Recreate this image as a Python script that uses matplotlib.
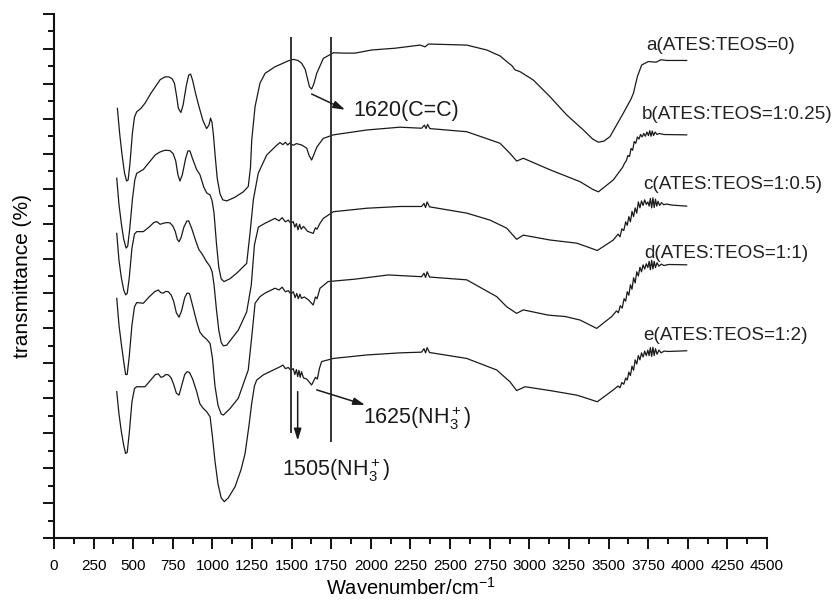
import numpy as np
import matplotlib
matplotlib.use("Agg")
import matplotlib.pyplot as plt
from matplotlib.ticker import MultipleLocator

plt.rcParams['font.family'] = ['Liberation Sans', 'DejaVu Sans']
plt.rcParams['mathtext.fontset'] = 'custom'
plt.rcParams['mathtext.rm'] = 'Liberation Sans'
plt.rcParams['mathtext.it'] = 'Liberation Sans:italic'
plt.rcParams['mathtext.bf'] = 'Liberation Sans:bold'

# FTIR spectra: (wavenumber, offset transmittance)
curve_a = [
    (400, 12.30), (415, 11.55), (430, 10.95), (445, 10.45), (458, 10.22), (468, 10.25),
    (480, 10.75), (495, 11.60), (508, 12.05), (522, 12.20), (549, 12.30), (575, 12.45),
    (610, 12.72), (640, 12.92), (670, 13.12), (700, 13.20), (725, 13.20), (745, 13.15),
    (760, 13.02), (772, 12.70), (785, 12.30), (801, 12.18), (815, 12.40), (835, 12.95),
    (850, 13.25), (862, 13.28), (875, 13.10), (895, 12.70), (915, 12.35), (940, 11.95),
    (963, 11.72), (978, 11.82), (988, 12.02), (997, 11.90), (1006, 11.55), (1018, 10.90),
    (1030, 10.30), (1048, 9.85), (1065, 9.68), (1090, 9.65), (1140, 9.75), (1195, 9.91),
    (1226, 10.06), (1240, 10.60), (1248, 11.39), (1269, 12.35), (1300, 13.02), (1332, 13.30),
    (1395, 13.49), (1440, 13.58), (1479, 13.66), (1511, 13.70), (1540, 13.67), (1563, 13.59),
    (1585, 13.42), (1600, 13.15), (1612, 12.92), (1626, 12.85), (1640, 13.00), (1658, 13.30),
    (1700, 13.73), (1763, 13.89), (1837, 13.88), (1900, 13.88), (2005, 13.97), (2152, 14.02),
    (2310, 14.11), (2342, 14.06), (2363, 14.14), (2450, 14.13), (2605, 14.11), (2731, 13.97),
    (2815, 13.80), (2857, 13.64), (2890, 13.52), (2910, 13.40), (2941, 13.35), (3025, 13.11),
    (3131, 12.63), (3236, 12.11), (3341, 11.68), (3400, 11.42), (3436, 11.33), (3470, 11.36),
    (3509, 11.49), (3593, 12.16), (3640, 12.55), (3657, 12.73), (3682, 13.21), (3709, 13.54),
    (3751, 13.64), (3800, 13.62), (3830, 13.69), (3867, 13.67), (3993, 13.67),
]

curve_b = [
    (396, 10.30), (410, 9.55), (425, 9.00), (440, 8.55), (455, 8.30), (465, 8.35),
    (478, 8.85), (495, 9.70), (510, 10.25), (522, 10.44), (545, 10.50), (564, 10.55),
    (600, 10.75), (640, 10.97), (669, 11.05), (700, 11.10), (732, 11.09), (752, 11.00),
    (768, 10.80), (782, 10.40), (795, 10.22), (810, 10.40), (830, 10.85), (845, 11.08),
    (858, 11.08), (875, 10.85), (900, 10.55), (921, 10.40), (945, 10.05), (963, 9.88),
    (985, 9.82), (998, 9.65), (1010, 9.30), (1025, 8.45), (1040, 7.75), (1055, 7.42),
    (1073, 7.34), (1110, 7.42), (1153, 7.58), (1216, 7.86), (1237, 8.72), (1258, 9.68),
    (1289, 10.44), (1342, 10.96), (1400, 11.22), (1426, 11.32), (1445, 11.26), (1460, 11.33),
    (1475, 11.25), (1489, 11.31), (1510, 11.24), (1530, 11.29), (1563, 11.25), (1595, 11.16),
    (1610, 10.95), (1626, 10.82), (1660, 11.20), (1700, 11.44), (1763, 11.54), (1974, 11.68),
    (2184, 11.76), (2320, 11.73), (2338, 11.82), (2348, 11.72), (2358, 11.84), (2372, 11.72),
    (2605, 11.63), (2815, 11.30), (2878, 11.01), (2920, 10.79), (2962, 10.87), (3131, 10.54),
    (3320, 10.20), (3400, 9.98), (3436, 9.91), (3530, 10.25), (3590, 10.62), (3600, 10.72),
    (3612, 10.80), (3622, 10.95), (3632, 10.92), (3642, 11.15), (3652, 11.10), (3662, 11.35),
    (3672, 11.30), (3682, 11.48), (3692, 11.42), (3702, 11.55), (3712, 11.48), (3722, 11.58),
    (3732, 11.50), (3742, 11.62), (3752, 11.52), (3760, 11.66), (3768, 11.50), (3776, 11.65),
    (3784, 11.52), (3794, 11.62), (3806, 11.55), (3820, 11.58), (3850, 11.55), (3993, 11.54),
]

curve_c = [
    (396, 8.72), (410, 7.95), (425, 7.45), (440, 7.10), (452, 6.96), (462, 7.00),
    (475, 7.45), (492, 8.30), (508, 8.70), (522, 8.77), (564, 8.77), (600, 8.90),
    (630, 9.03), (648, 9.06), (670, 8.98), (690, 9.01), (712, 9.03), (732, 9.02),
    (750, 8.93), (765, 8.78), (778, 8.55), (789, 8.48), (802, 8.60), (820, 8.90),
    (838, 9.07), (850, 9.08), (870, 8.85), (895, 8.50), (915, 8.25), (932, 8.15),
    (963, 7.91), (985, 7.77), (998, 7.62), (1010, 7.25), (1025, 6.55), (1040, 5.95),
    (1055, 5.60), (1069, 5.50), (1090, 5.52), (1163, 5.95), (1216, 6.47), (1245, 7.24),
    (1265, 8.39), (1290, 8.90), (1332, 9.01), (1395, 9.15), (1420, 9.08), (1440, 9.17),
    (1460, 9.05), (1479, 9.10), (1495, 9.00), (1510, 9.06), (1520, 8.90), (1530, 9.00),
    (1540, 8.82), (1550, 8.98), (1560, 8.84), (1575, 8.92), (1600, 8.78), (1636, 8.72),
    (1650, 8.88), (1660, 8.84), (1679, 9.01), (1700, 9.15), (1763, 9.34), (1974, 9.44),
    (2184, 9.49), (2320, 9.49), (2335, 9.58), (2345, 9.46), (2355, 9.62), (2370, 9.48),
    (2605, 9.30), (2752, 9.10), (2857, 8.87), (2920, 8.55), (2962, 8.67), (3131, 8.53),
    (3299, 8.44), (3362, 8.34), (3429, 8.23), (3530, 8.53), (3560, 8.70), (3572, 8.62),
    (3584, 8.85), (3596, 8.80), (3608, 9.05), (3618, 8.95), (3628, 9.20), (3638, 9.05),
    (3648, 9.35), (3658, 9.20), (3668, 9.45), (3678, 9.30), (3688, 9.62), (3698, 9.45),
    (3708, 9.65), (3718, 9.52), (3728, 9.68), (3738, 9.55), (3748, 9.62), (3756, 9.50),
    (3764, 9.72), (3772, 9.45), (3780, 9.74), (3788, 9.46), (3796, 9.70), (3804, 9.50),
    (3812, 9.64), (3822, 9.52), (3834, 9.60), (3848, 9.54), (3865, 9.56), (3900, 9.53),
    (3993, 9.50),
]

curve_d = [
    (396, 6.86), (410, 6.10), (425, 5.55), (440, 5.05), (452, 4.68), (462, 4.68),
    (475, 5.20), (492, 6.10), (508, 6.62), (522, 6.74), (564, 6.72), (600, 6.90),
    (635, 7.05), (658, 7.10), (675, 7.02), (690, 7.01), (705, 7.06), (722, 7.05),
    (740, 6.95), (755, 6.78), (772, 6.45), (789, 6.32), (805, 6.50), (825, 6.88),
    (840, 7.01), (855, 7.00), (875, 6.65), (900, 6.20), (920, 5.90), (940, 5.78),
    (963, 5.69), (985, 5.57), (1000, 5.15), (1016, 4.35), (1035, 3.80), (1055, 3.55),
    (1069, 3.52), (1110, 3.70), (1163, 4.00), (1226, 4.81), (1248, 5.76), (1269, 6.72),
    (1300, 6.91), (1332, 7.01), (1395, 7.15), (1420, 7.10), (1440, 7.18), (1460, 7.05),
    (1479, 7.08), (1495, 6.98), (1510, 7.05), (1522, 6.88), (1532, 7.00), (1542, 6.85),
    (1552, 6.98), (1562, 6.86), (1580, 6.90), (1605, 6.82), (1636, 6.67), (1650, 6.90),
    (1660, 6.85), (1679, 7.15), (1730, 7.34), (1900, 7.41), (2110, 7.53), (2320, 7.48),
    (2335, 7.58), (2345, 7.46), (2355, 7.62), (2370, 7.47), (2605, 7.39), (2794, 6.91),
    (2857, 6.62), (2920, 6.43), (2962, 6.53), (3120, 6.38), (3226, 6.34), (3320, 6.24),
    (3425, 6.00), (3520, 6.34), (3550, 6.50), (3562, 6.45), (3574, 6.65), (3586, 6.58),
    (3598, 6.85), (3608, 6.78), (3618, 7.05), (3628, 6.95), (3638, 7.25), (3648, 7.12),
    (3658, 7.45), (3668, 7.30), (3678, 7.62), (3688, 7.50), (3698, 7.75), (3708, 7.62),
    (3718, 7.82), (3728, 7.70), (3738, 7.85), (3748, 7.74), (3756, 7.92), (3764, 7.68),
    (3772, 7.95), (3780, 7.70), (3788, 7.92), (3796, 7.74), (3806, 7.88), (3818, 7.78),
    (3832, 7.84), (3850, 7.80), (3880, 7.83), (3993, 7.82),
]

curve_e = [
    (396, 4.19), (410, 3.55), (425, 3.05), (440, 2.65), (452, 2.42), (462, 2.45),
    (475, 3.00), (492, 3.90), (508, 4.28), (522, 4.33), (574, 4.33), (610, 4.52),
    (640, 4.68), (658, 4.70), (675, 4.60), (690, 4.62), (705, 4.68), (722, 4.67),
    (740, 4.58), (755, 4.40), (772, 4.15), (789, 4.09), (805, 4.35), (825, 4.68),
    (840, 4.76), (855, 4.74), (875, 4.55), (900, 4.20), (920, 3.85), (940, 3.72),
    (963, 3.62), (985, 3.47), (1000, 2.90), (1016, 2.20), (1035, 1.55), (1055, 1.15),
    (1075, 1.04), (1100, 1.15), (1143, 1.47), (1180, 1.95), (1206, 2.42), (1230, 3.20),
    (1248, 3.86), (1265, 4.35), (1279, 4.52), (1321, 4.67), (1380, 4.80), (1426, 4.90),
    (1445, 4.95), (1460, 4.85), (1479, 4.88), (1495, 4.80), (1510, 4.85), (1520, 4.68),
    (1530, 4.82), (1538, 4.62), (1546, 4.80), (1554, 4.60), (1562, 4.76), (1575, 4.58),
    (1595, 4.55), (1626, 4.38), (1650, 4.60), (1662, 4.55), (1675, 4.85), (1689, 5.05),
    (1763, 5.14), (1974, 5.24), (2184, 5.30), (2320, 5.32), (2335, 5.42), (2345, 5.30),
    (2355, 5.45), (2370, 5.31), (2605, 5.14), (2794, 4.81), (2878, 4.47), (2920, 4.22),
    (2973, 4.33), (3131, 4.22), (3299, 4.09), (3362, 4.00), (3429, 3.90), (3530, 4.24),
    (3560, 4.35), (3572, 4.30), (3584, 4.45), (3596, 4.40), (3608, 4.58), (3618, 4.52),
    (3628, 4.75), (3638, 4.65), (3648, 4.92), (3658, 4.80), (3668, 5.10), (3678, 4.98),
    (3688, 5.22), (3698, 5.10), (3708, 5.30), (3718, 5.18), (3728, 5.35), (3738, 5.22),
    (3748, 5.38), (3756, 5.22), (3764, 5.45), (3772, 5.20), (3780, 5.46), (3788, 5.22),
    (3796, 5.42), (3806, 5.26), (3818, 5.38), (3832, 5.30), (3850, 5.35), (3880, 5.34),
    (3993, 5.36),
]

curves = [curve_a, curve_b, curve_c, curve_d, curve_e]
curve_labels = ["a(ATES:TEOS=0)", "b(ATES:TEOS=1:0.25)", "c(ATES:TEOS=1:0.5)",
                "d(ATES:TEOS=1:1)", "e(ATES:TEOS=1:2)"]
label_x = [3741, 3709, 3719, 3726, 3718]
label_y = [14.11, 12.11, 10.11, 8.15, 5.81]

# marker lines and band annotations
vline_x = [1495, 1748]
vline_ymin = [3.04, 2.79]
vline_ytop = 14.31

fig = plt.figure(figsize=(8.37, 6.02), dpi=100)
ax = fig.add_axes([54 / 837, 1 - 538 / 602, 713 / 837, 524 / 602])

for pts in curves:
    x, y = np.array(pts).T
    ax.plot(x, y, color="#1a1a1a", lw=0.9)

for xv, y0 in zip(vline_x, vline_ymin):
    ax.plot([xv, xv], [y0, vline_ytop], color="#333333", lw=1.4)

for txt, xl, yl in zip(curve_labels, label_x, label_y):
    ax.text(xl, yl, txt, fontsize=13.6, va="center", ha="left", color="#222222")

arrow_kw = dict(arrowstyle="-|>,head_length=0.7,head_width=0.22", color="#1a1a1a", lw=1.1,
                shrinkA=0, shrinkB=0)
ax.annotate("", xy=(1837, 12.26), xytext=(1626, 12.71), arrowprops=arrow_kw)
ax.annotate("", xy=(1963, 3.81), xytext=(1658, 4.24), arrowprops=arrow_kw)
ax.annotate("", xy=(1538, 2.79), xytext=(1538, 4.19), arrowprops=arrow_kw)

ax.text(1889, 12.08, "1620(C=C)", fontsize=15.5, va="baseline", color="#1a1a1a")
ax.text(1952, 3.25, r"1625(NH$_3^+$)", fontsize=15.5, va="baseline", color="#1a1a1a")
ax.text(1437, 1.77, r"1505(NH$_3^+$)", fontsize=15.5, va="baseline", color="#1a1a1a")

ax.set_xlim(0, 4500)
ax.set_ylim(0, 15)
ax.xaxis.set_major_locator(MultipleLocator(250))
ax.xaxis.set_minor_locator(MultipleLocator(125))
ax.yaxis.set_major_locator(MultipleLocator(1))
ax.yaxis.set_minor_locator(MultipleLocator(0.5))
ax.tick_params(axis="both", which="major", direction="out", length=8, width=1.4, color="#111111")
ax.tick_params(axis="both", which="minor", direction="out", length=4, width=1.4, color="#111111")
ax.tick_params(axis="x", labelsize=11, pad=7)
ax.tick_params(axis="y", labelleft=False)
for side in ["top", "right"]:
    ax.spines[side].set_visible(False)
for side in ["left", "bottom"]:
    ax.spines[side].set_linewidth(1.5)
    ax.spines[side].set_color("#111111")

ax.set_xlabel(r"Wavenumber/cm$^{-1}$", fontsize=14.5, labelpad=3)
ax.set_ylabel("transmittance (%)", fontsize=15, labelpad=8)

fig.savefig("out.png", dpi=100)
